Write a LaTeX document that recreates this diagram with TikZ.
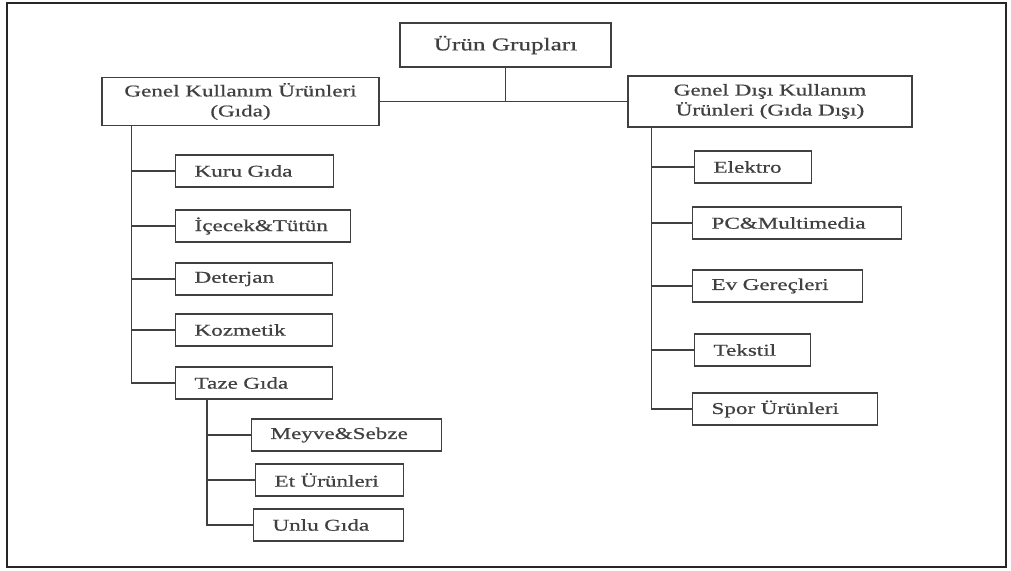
\documentclass[tikz,border=0pt]{standalone}
\usepackage{fontspec}
\setmainfont{Liberation Serif}[FakeStretch=1.4, FakeBold=0.7]
\usetikzlibrary{calc}

\tikzset{
    kutu/.style={draw=black!75, line width=1.1pt, anchor=west, minimum height=32pt,
        inner xsep=19pt, inner ysep=0pt, align=left, text=black!75,
        font=\fontsize{16.5}{20}\selectfont},
    baslik/.style={draw=black!75, line width=1.1pt, inner sep=0pt, align=center,
        text=black!75, font=\fontsize{16.5}{20}\selectfont},
    hat/.style={draw=black!75, line width=1.1pt}
}

\begin{document}
\begin{tikzpicture}[x=1pt, y=-1pt]
    % Page size and outer frame
    \useasboundingbox (0,0) rectangle (1011,570);
    \draw[black!85, line width=2pt] (7,3) rectangle (1006,567);

    % Top level
    \node[baslik, minimum width=211pt, minimum height=44pt,
        font=\fontsize{18}{20}\selectfont] (urun) at (505.5,45) {Ürün Grupları};

    % Two main groups
    \node[baslik, minimum width=277pt, minimum height=48pt] (gida) at (240.5,101.5)
        {Genel Kullanım Ürünleri\\(Gıda)};
    \node[baslik, minimum width=284pt, minimum height=51pt] (gidadisi) at (770,101.5)
        {Genel Dışı Kullanım\\Ürünleri (Gıda Dışı)};

    % Food items, left column
    \node[kutu, text width=120pt] (kuru) at (175,171) {Kuru Gıda};
    \node[kutu, text width=137pt] (icecek) at (175,226) {İçecek\&Tütün};
    \node[kutu, text width=119pt] (deterjan) at (175,279) {Deterjan};
    \node[kutu, text width=119pt] (kozmetik) at (175,330) {Kozmetik};
    \node[kutu, text width=119pt] (taze) at (175,383) {Taze Gıda};

    % Fresh food items
    \node[kutu, text width=152pt] (meyve) at (251,435) {Meyve\&Sebze};
    \node[kutu, text width=110pt] (et) at (255,480) {Et Ürünleri};
    \node[kutu, text width=112pt] (unlu) at (253,525) {Unlu Gıda};

    % Non-food items, right column
    \node[kutu, text width=79pt] (elektro) at (694,167) {Elektro};
    \node[kutu, text width=171pt] (pc) at (692,223) {PC\&Multimedia};
    \node[kutu, text width=132pt] (ev) at (692,286) {Ev Gereçleri};
    \node[kutu, text width=78pt] (tekstil) at (694,350) {Tekstil};
    \node[kutu, text width=147pt] (spor) at (692,409) {Spor Ürünleri};

    % Trunk points under the group boxes
    \coordinate (gt) at ($(gida.south west) + (30,0)$);
    \coordinate (tt) at ($(taze.south west) + (32,0)$);
    \coordinate (dt) at ($(gidadisi.south west) + (24,0)$);

    % Top connectors
    \draw[hat] (urun.south) -- (urun.south |- gida.east);
    \draw[hat] (gida.east) -- (gidadisi.west);

    % Left tree
    \draw[hat] (gt) |- (taze.west);
    \draw[hat] (gt |- kuru.west) -- (kuru.west);
    \draw[hat] (gt |- icecek.west) -- (icecek.west);
    \draw[hat] (gt |- deterjan.west) -- (deterjan.west);
    \draw[hat] (gt |- kozmetik.west) -- (kozmetik.west);

    % Fresh food tree
    \draw[hat] (tt) |- (unlu.west);
    \draw[hat] (tt |- meyve.west) -- (meyve.west);
    \draw[hat] (tt |- et.west) -- (et.west);

    % Right tree
    \draw[hat] (dt) |- (spor.west);
    \draw[hat] (dt |- elektro.west) -- (elektro.west);
    \draw[hat] (dt |- pc.west) -- (pc.west);
    \draw[hat] (dt |- ev.west) -- (ev.west);
    \draw[hat] (dt |- tekstil.west) -- (tekstil.west);
\end{tikzpicture}
\end{document}
